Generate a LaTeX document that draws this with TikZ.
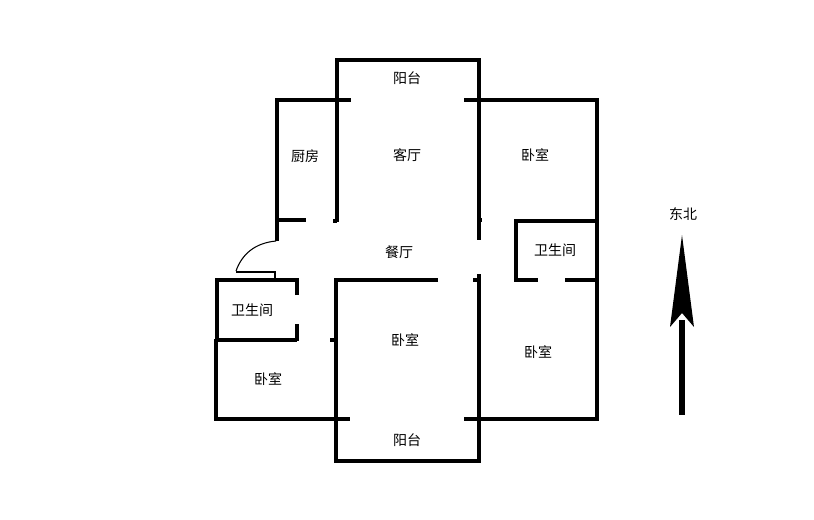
\documentclass[tikz,border=0pt]{standalone}
\usepackage{fontspec}
\newfontfamily\cjk{Noto Sans CJK SC}
\tikzset{
  wall/.style={line width=2.4pt,line cap=butt},
  roomlabel/.style={font=\cjk\fontsize{10.5pt}{12pt}\selectfont,inner sep=0pt},
}
\begin{document}
\begin{tikzpicture}[x=0.75pt,y=0.75pt,yscale=-1,xscale=1]
        \useasboundingbox (0,0) rectangle (814,519);

        %Shape: balconies
        \draw[wall] (337,100) -- (337,60) -- (479,60) -- (479,100) ;
        \draw[wall] (336,419) -- (336,461) -- (479,461) -- (479,419) ;

        %Shape: top wall and bedroom
        \draw[wall] (277,241) -- (277,100) -- (351,100) ;
        \draw[wall] (464,100) -- (597,100) -- (597,419) -- (464,419) ;
        \draw[wall] (337,100) -- (337,222) ;
        \draw[wall] (479,100) -- (479,240) ;
        \draw[wall] (479,220) -- (482,220) ;
        \draw[wall] (277,220) -- (306,220) ;
        \draw[wall] (333,221) -- (337,221) ;

        %Shape: bathroom right
        \draw[wall] (514,221) -- (597,221) ;
        \draw[wall] (516,221) -- (516,281) ;
        \draw[wall] (514,280) -- (538,280) ;
        \draw[wall] (565,280) -- (597,280) ;

        %Shape: middle bedroom
        \draw[wall] (438,280) -- (336,280) -- (336,419) ;
        \draw[wall] (479,274) -- (479,419) ;
        \draw[wall] (473,280) -- (481,280) ;
        \draw[wall] (330,340) -- (336,340) ;

        %Shape: bathroom left
        \draw[wall] (297,295) -- (297,280) -- (217,280) -- (217,340) ;
        \draw[line width=3.2pt] (216,340) -- (297,340) ;
        \draw[wall] (297,341) -- (297,324) ;

        %Shape: bedroom left
        \draw[wall] (216,339) -- (216,419) -- (350,419) ;

        %Shape: door
        \draw[line width=0.8pt] (276,241) .. controls (255,243) and (242,254) .. (236,271) ;
        \draw[line width=1.5pt] (236,272) -- (275,272) -- (275,280) ;

        %Shape: arrow
        \draw[line width=4.5pt] (682,320) -- (682,415) ;
        \fill (682,235) -- (694,327) -- (682,313) -- (670,327) -- cycle ;

        \node[roomlabel] (balconyN) at (407,78) {\cjk 阳台};
        \node[roomlabel] (kitchen) at (305,156) {\cjk 厨房};
        \node[roomlabel] (living) at (407,155) {\cjk 客厅};
        \node[roomlabel] (bedNE) at (535,155) {\cjk 卧室};
        \node[roomlabel] (dining) at (399,252) {\cjk 餐厅};
        \node[roomlabel] (bathE) at (555,250) {\cjk 卫生间};
        \node[roomlabel] (bathW) at (252,310) {\cjk 卫生间};
        \node[roomlabel] (bedM) at (405,340) {\cjk 卧室};
        \node[roomlabel] (bedSE) at (538,352) {\cjk 卧室};
        \node[roomlabel] (bedW) at (268,379) {\cjk 卧室};
        \node[roomlabel] (balconyS) at (407,440) {\cjk 阳台};
        \node[roomlabel] (compass) at (683,214) {\cjk 东北};
    \end{tikzpicture}
\end{document}
